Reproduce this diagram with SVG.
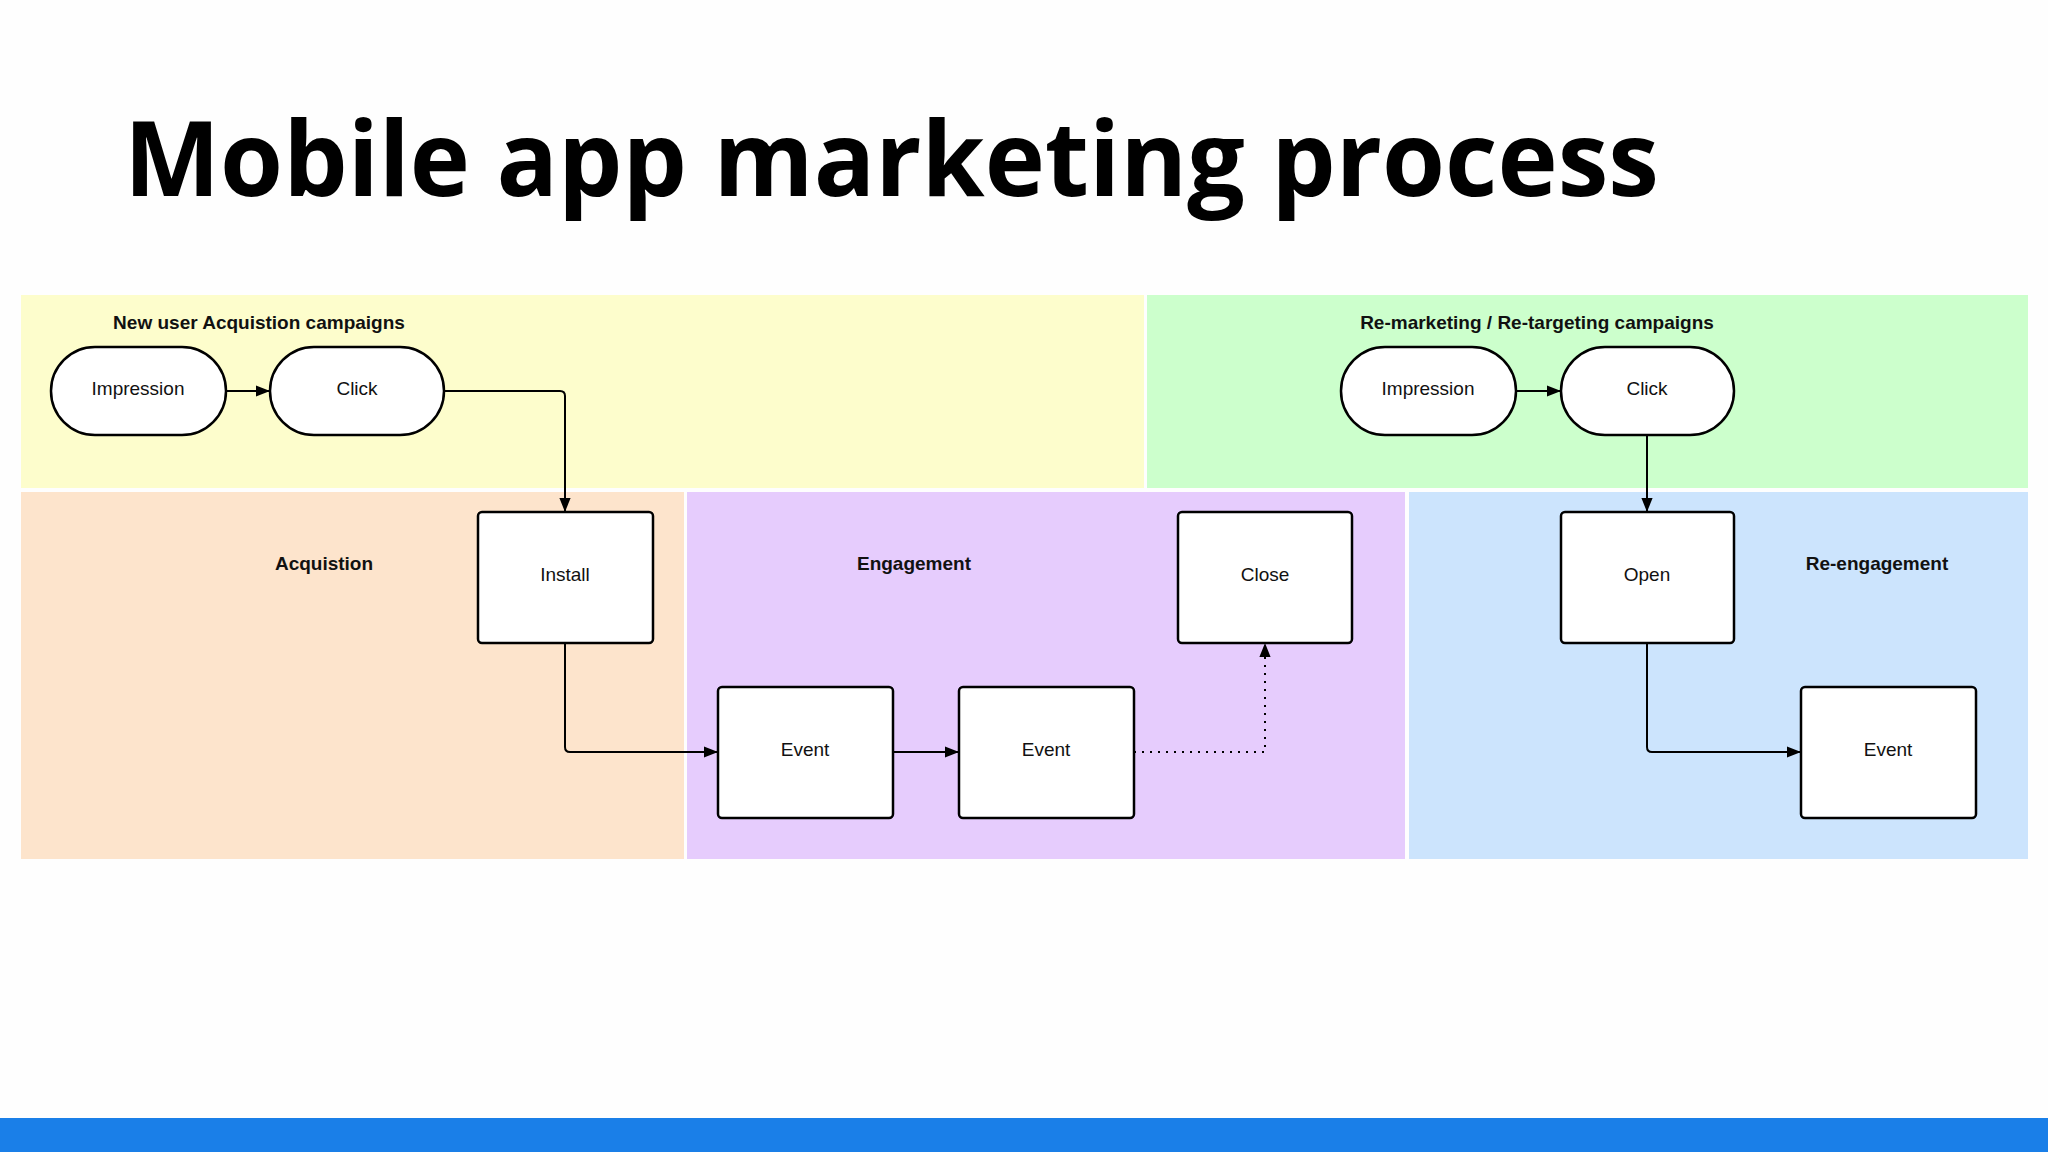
<svg xmlns="http://www.w3.org/2000/svg" width="2048" height="1152" viewBox="0 0 2048 1152">
<defs>
<marker id="ah" viewBox="0 0 10 10" refX="10" refY="5" markerWidth="8" markerHeight="8" markerUnits="userSpaceOnUse" orient="auto"><path d="M0,0 L10,5 L0,10 z" fill="#000"/></marker>
<marker id="ahb" viewBox="0 0 10 10" refX="10" refY="5" markerWidth="16" markerHeight="14" markerUnits="userSpaceOnUse" orient="auto"><path d="M0,1 L10,5 L0,9 z" fill="#000"/></marker>
</defs>
<style>
.n{fill:#fff;stroke:#000;stroke-width:2.5}
.t{font-family:"Liberation Sans",Arial,sans-serif;font-size:19px;text-anchor:middle;fill:#111}
.h{font-family:"Liberation Sans",Arial,sans-serif;font-size:19px;font-weight:bold;text-anchor:middle;fill:#111}
.c{fill:none;stroke:#000;stroke-width:2;marker-end:url(#ahb)}
</style>
<rect width="2048" height="1152" fill="#fefefe"/>
<text x="124" y="196" font-family="'Open Sans',sans-serif" font-weight="bold" font-size="104" textLength="1535" lengthAdjust="spacingAndGlyphs" fill="#000">Mobile app marketing process</text>
<g id="lanes">
<rect x="21" y="295" width="1123" height="193" fill="#fdfdcc"/>
<rect x="1147" y="295" width="881" height="193" fill="#ccffcc"/>
<rect x="21" y="492" width="663" height="367" fill="#fde4cc"/>
<rect x="687" y="492" width="718" height="367" fill="#e6ccfd"/>
<rect x="1409" y="492" width="619" height="367" fill="#cce4fd"/>
<text class="h" x="259" y="329">New user Acquistion campaigns</text>
<text class="h" x="1537" y="329">Re-marketing / Re-targeting campaigns</text>
<text class="h" x="324" y="570">Acquistion</text>
<text class="h" x="914" y="570">Engagement</text>
<text class="h" x="1877" y="570">Re-engagement</text>
</g>
<g id="connectors">
<path class="c" d="M226,391 H270"/>
<path class="c" d="M444,391 H560 Q565,391 565,396 V512"/>
<path class="c" d="M565,643 V747 Q565,752 570,752 H718"/>
<path class="c" d="M893,752 H959"/>
<path class="c" d="M1134,752 H1265 V643" stroke-dasharray="2,6"/>
<path class="c" d="M1516,391 H1561"/>
<path class="c" d="M1647,435 V512"/>
<path class="c" d="M1647,643 V747 Q1647,752 1652,752 H1801"/>
</g>
<g id="imp1"><rect class="n" x="51" y="347" width="175" height="88" rx="44"/><text class="t" x="138" y="395">Impression</text></g>
<g id="click1"><rect class="n" x="270" y="347" width="174" height="88" rx="44"/><text class="t" x="357" y="395">Click</text></g>
<g id="install"><rect class="n" x="478" y="512" width="175" height="131" rx="4"/><text class="t" x="565" y="581">Install</text></g>
<g id="event1"><rect class="n" x="718" y="687" width="175" height="131" rx="4"/><text class="t" x="805" y="756">Event</text></g>
<g id="event2"><rect class="n" x="959" y="687" width="175" height="131" rx="4"/><text class="t" x="1046" y="756">Event</text></g>
<g id="close"><rect class="n" x="1178" y="512" width="174" height="131" rx="4"/><text class="t" x="1265" y="581">Close</text></g>
<g id="imp2"><rect class="n" x="1341" y="347" width="175" height="88" rx="44"/><text class="t" x="1428" y="395">Impression</text></g>
<g id="click2"><rect class="n" x="1561" y="347" width="173" height="88" rx="44"/><text class="t" x="1647" y="395">Click</text></g>
<g id="open"><rect class="n" x="1561" y="512" width="173" height="131" rx="4"/><text class="t" x="1647" y="581">Open</text></g>
<g id="event3"><rect class="n" x="1801" y="687" width="175" height="131" rx="4"/><text class="t" x="1888" y="756">Event</text></g>
<rect x="0" y="1118" width="2048" height="34" fill="#1a7fe8"/>
</svg>
